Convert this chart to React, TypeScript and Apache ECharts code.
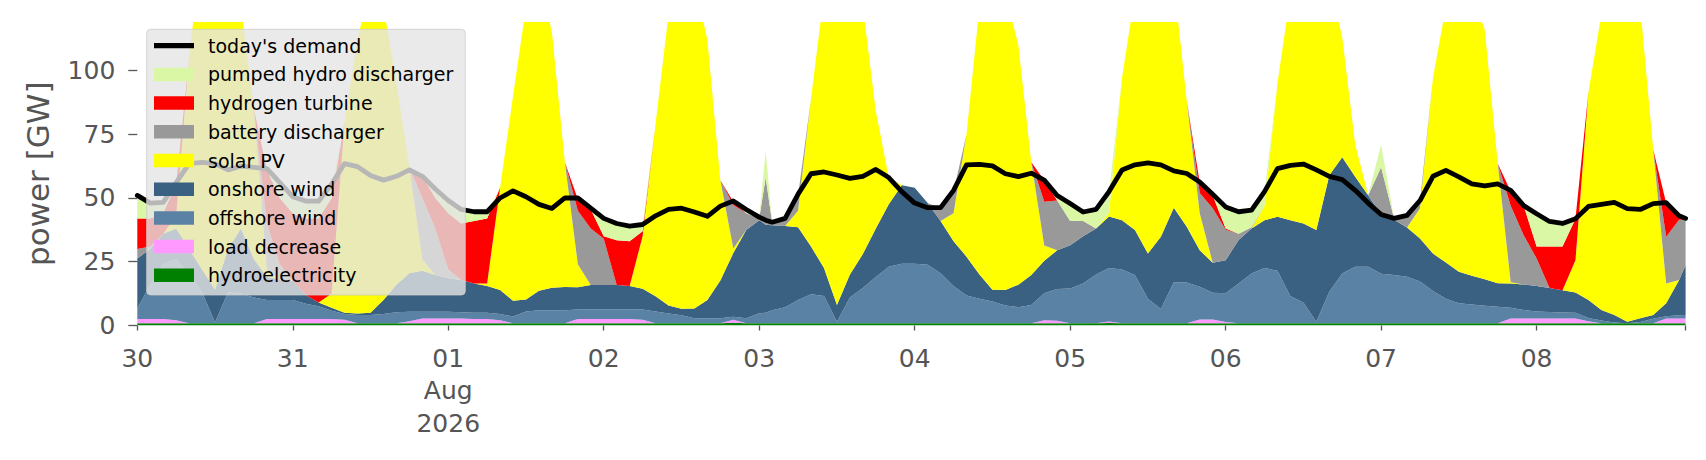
import React, { useEffect, useRef } from "react";
import * as echarts from "echarts";

// hours since 30 Jul 2026 00:00
const hours = [
  0, 2, 4, 6, 8, 10, 12, 14, 16, 18, 20, 22,
  24, 26, 28, 30, 32, 34, 36, 38, 40, 42, 44, 46,
  48, 50, 52, 54, 56, 58, 60, 62, 64, 66, 68, 70,
  72, 74, 76, 78, 80, 82, 84, 86, 88, 90, 92, 94,
  96, 97, 98, 100, 102, 104, 106, 108, 110, 112, 114, 116, 118,
  120, 122, 124, 126, 128, 130, 132, 134, 136, 138, 140, 142,
  144, 146, 148, 150, 152, 154, 156, 158, 160, 162, 164, 166,
  168, 170, 172, 174, 176, 178, 180, 182, 184, 186, 188, 190,
  192, 194, 196, 198, 200, 202, 204, 206, 208, 210, 212, 214,
  216, 218, 220, 222, 224, 226, 228, 230, 232, 234, 236, 238,
  239,
];

const demand = [
  51, 48, 48.3, 56, 63.5, 64, 63.5, 61, 62.5, 62, 61.5, 56,
  50.5, 48.8, 48.8, 55.5, 63.5, 62.3, 58.8, 57, 58.5, 61, 58.5, 53.5,
  49, 45.5, 44.6, 44.6, 50, 52.8, 50.5, 47.5, 45.9, 50, 50, 46,
  42, 40, 39, 39.6, 43, 45.5, 46, 44.5, 42.8, 46.8, 48.8, 45.5,
  42.5, 41.3, 40.5, 42, 51.5, 59.5, 60.2, 59, 57.7, 58.5, 61.2, 58, 52.5,
  48, 46.2, 46.2, 53, 63, 63.2, 62.6, 59.5, 58.4, 59.7, 57, 51,
  47.8, 44.5, 45.5, 52.5, 61, 63, 63.8, 63, 60.6, 59.6, 56.3, 51.5,
  46.5, 44.6, 45.2, 52.5, 61.5, 62.8, 63.3, 61, 58.5, 57.2, 53, 48,
  43.5, 42, 43.2, 49, 58.5, 60.8, 58.3, 55.5, 54.7, 55.5, 53, 47,
  43.8, 40.8, 40, 41.9, 46.7, 47.5, 48.3, 45.8, 45.5, 47.8, 48.2, 43,
  42,
];

const hydroelectricity = [
  0.9, 0.9, 0.9, 0.9, 0.9, 0.9, 0.9, 0.9, 0.9, 0.9, 0.9, 0.9,
  0.9, 0.9, 0.9, 0.9, 0.9, 0.9, 0.9, 0.9, 0.9, 0.9, 0.9, 0.9,
  0.9, 0.9, 0.9, 0.9, 0.9, 0.9, 0.9, 0.9, 0.9, 0.9, 0.9, 0.9,
  0.9, 0.9, 0.9, 0.9, 0.9, 0.9, 0.9, 0.9, 0.9, 0.9, 1.1, 0.9,
  0.9, 0.9, 0.9, 0.9, 0.9, 0.9, 0.9, 0.9, 0.9, 0.9, 0.9, 0.9, 0.9,
  0.9, 0.9, 0.9, 0.9, 0.9, 0.9, 0.9, 0.9, 0.9, 0.9, 0.9, 0.9,
  0.9, 0.9, 0.9, 1.0, 0.9, 0.9, 0.9, 0.9, 0.9, 0.9, 0.9, 0.9,
  0.9, 0.9, 0.9, 0.9, 0.9, 0.9, 0.9, 0.9, 0.9, 0.9, 0.9, 0.9,
  0.9, 0.9, 0.9, 0.9, 0.9, 0.9, 0.9, 0.9, 0.9, 0.9, 0.9, 0.9,
  0.9, 0.9, 0.9, 0.9, 0.9, 0.9, 0.9, 0.9, 0.9, 0.9, 0.9, 0.9,
  0.9,
];

const loadDecrease = [
  1.6, 1.6, 1.6, 1.2, 0, 0, 0, 0, 0, 0, 1.6, 1.6,
  1.6, 1.6, 1.6, 1.6, 1.4, 0, 0, 0, 0, 0.8, 1.8, 1.8,
  1.8, 1.8, 1.6, 1.6, 1.2, 0, 0, 0, 0, 0, 1.6, 1.6,
  1.6, 1.6, 1.6, 1.4, 0, 0, 0, 0, 0, 0, 1.2, 0,
  0, 0, 0, 0, 0, 0, 0, 0, 0, 0, 0, 0, 0,
  0, 0, 0, 0, 0, 0, 0, 0, 0, 0, 1.2, 1.0,
  0, 0, 0, 0.6, 0, 0, 0, 0, 0, 0, 1.5, 1.5,
  0.5, 0, 0, 0, 0, 0, 0, 0, 0, 0, 0, 0,
  0, 0, 0, 0, 0, 0, 0, 0, 0, 0, 1.8, 1.8,
  1.8, 1.8, 1.8, 1.8, 0.8, 0, 0, 0, 0, 0, 1.8, 1.8,
  1.8,
];

const offshoreWind = [
  4.2, 13.5, 21.5, 23.9, 19.1, 12.1, 0.3, 12.1, 11.6, 10.1, 7.5, 7.5,
  7.5, 6, 5, 3.3, 2.2, 3.2, 3.2, 3.6, 4.3, 3.7, 2.7, 2.7,
  2.7, 2.5, 2.5, 2.5, 2.4, 2.6, 4.6, 5.1, 5.1, 5.1, 3.8, 3.8,
  3.8, 3.8, 3.8, 4, 4.6, 3.8, 3.1, 1.9, 1.9, 1.9, 1.1, 1.9,
  3.9, 4.1, 5.1, 6.3, 9.1, 11.4, 10.7, 0.6, 10.1, 13.8, 18.1, 22.1, 23.3,
  23.3, 22.9, 19.6, 14.6, 10.9, 9.6, 8.5, 6.9, 6.3, 7.1, 10.5, 12.4,
  13.6, 15.6, 19.1, 20.9, 21.1, 18.9, 9.6, 5.6, 16.1, 16, 12.8, 10.4,
  11.2, 15.6, 19.5, 21.6, 20.6, 10.6, 8.1, 0.6, 12.3, 19.5, 22.1, 22.1,
  19.4, 18.9, 18.2, 16.4, 12.6, 9.6, 7.8, 7.3, 6.8, 6.5, 4.3, 3.4,
  2.8, 2.6, 2.4, 2.3, 1.2, 1.1, 0.3, 0, 0.5, 1.7, 0.9, 1.3,
  1.4,
];

const onshoreWind = [
  19.6, 14, 12, 12, 10, 9, 12.8, 17, 25.5, 15, 9, 8,
  7.5, 3.5, 1.5, 1.2, 0.5, 0.6, 0.9, 5.5, 10.8, 15.1, 16.1, 14.4,
  13.1, 12.6, 11.5, 10.5, 9.4, 6.2, 4.7, 7.6, 8.8, 9.1, 8.7, 9.6,
  9.6, 9.6, 9.2, 8.1, 6, 3.1, 2.6, 3.9, 7.2, 14.8, 25, 34.6,
  36.5, 34.5, 33.3, 31.8, 28.5, 18.7, 10.9, 6.5, 9, 13.3, 19, 24.5, 30.8,
  29.8, 24.2, 20.5, 17.5, 15.2, 9.5, 4.6, 6.1, 8.8, 11.8, 12.8, 15.2,
  17, 18.5, 18, 20.2, 19.3, 17.6, 17.7, 28.3, 29.2, 21.8, 14.3, 11.8,
  13, 17, 17.6, 18.8, 21.1, 29.8, 31, 35.9, 45.7, 45.6, 35.3, 28.1,
  23, 21.7, 19.3, 16.8, 14.7, 14.2, 12.4, 11.3, 10.4, 9.2, 9.5, 10,
  10, 9.4, 8.7, 7.9, 7.1, 4.1, 2.9, 0.6, 1.4, 1.5, 5.1, 13.8,
  19.6,
];

const solarPV = [
  0, 0, 0, 5, 75, 128, 151, 125, 87, 59, 3, 0,
  0, 0, 0, 5.5, 75, 107.3, 130, 115, 79, 41.5, 4.5, 0,
  0, 0, 0, 1, 40.1, 80.3, 114.8, 124.4, 100.2, 48.9, 9, 0,
  0, 0, 0, 20.6, 67.5, 114.2, 133.4, 128.3, 102, 39.4, 1.8, 0,
  0, 0, 0, 0, 6.5, 58, 107.5, 137, 125, 97, 46, 10.5, 0,
  0, 0, 0, 11, 48, 105, 126, 116.1, 94, 44.2, 6, 0,
  0, 0, 0, 1.4, 55.7, 92.6, 121.8, 110.2, 88.8, 49.3, 14.5, 0,
  0, 0, 0, 5.7, 52.4, 88.7, 110, 112.6, 76.1, 47, 12.7, 0,
  0, 0, 0, 11.9, 68.8, 100.3, 118.9, 110.5, 97.9, 46.9, 0.5, 0,
  0, 0, 0, 12.7, 81.5, 115.9, 135.9, 143.5, 122.2, 64.9, 7.8, 0,
  0,
];

const batteryDischarger = [
  3.7, 1, 0, 0, 0, 0, 0, 0, 0, 0, 18, 6,
  0, 0, 0, 0, 0, 0, 0, 0, 0, 0, 24, 18.2,
  3.5, 0, 0, 0, 0, 0, 0, 0, 0, 0, 21, 22.1,
  18.1, 0, 0, 0, 0, 0, 0, 0, 0, 0, 17, 6.6,
  0.7, 18.5, 0.9, 2.5, 6, 0, 0, 0, 0, 0, 0, 0, 0,
  0, 0, 5, 8.5, 0, 0, 0, 0, 0, 0, 17.1, 19.5,
  9.5, 6, 0, 0, 0, 0, 0, 0, 0, 0, 8, 21.4,
  11.9, 2.5, 0.5, 0, 0, 0, 0, 0, 0, 0, 0, 0,
  18.7, 0.5, 4.6, 2.5, 0, 0, 0, 0, 0, 0, 30, 19.3,
  10.8, 0, 0, 0, 0, 0, 0, 0, 0, 0, 18.3, 23.7,
  17.8,
];

const hydrogenTurbine = [
  12, 11, 8, 12.5, 0, 0, 0, 0, 0, 0, 21, 26,
  26.5, 30, 33, 37.5, 0, 0, 0, 0, 0, 0, 8.5, 12,
  22, 22.2, 24.5, 25.5, 0, 0, 0, 0, 0, 0, 4.5, 7.5,
  1, 17.5, 17.5, 2, 0, 0, 0, 0, 0, 0, 1.3, 0,
  0, 0, 0, 0, 0, 0, 0, 0, 0, 0, 0, 0, 0,
  0, 0, 0, 0, 0, 0, 0, 0, 0, 0, 8.5, 0,
  0, 0, 0, 0, 0, 0, 0, 0, 0, 0, 4, 5,
  0.5, 0, 0, 0, 0, 0, 0, 0, 0, 0, 0, 0,
  0, 0, 0, 0, 0, 0, 0, 0, 0, 0, 5.5, 11.6,
  4.7, 16.3, 17.2, 16.3, 0, 0, 0, 0, 0, 0, 13.2, 1.5,
  0,
];

const pumpedHydroDischarger = [
  8, 5.5, 3.8, 0, 0, 0, 0, 0, 0, 0, 0, 5.5,
  6, 6.3, 6.3, 4.5, 0, 0, 0, 0, 0, 0, 0, 3,
  4.5, 5, 3.2, 2.2, 0, 0, 0, 0, 0, 0, 0, 0,
  6.5, 6.3, 5.6, 2.2, 0, 0, 0, 0, 0, 0, 0, 1,
  0.2, 10.5, 0.3, 0.5, 0, 0, 0, 0, 0, 0, 0, 0, 0,
  0, 0, 0, 0, 0, 0, 0, 0, 0, 0, 0, 1.5,
  6.5, 3.2, 7.2, 8, 0, 0, 0, 0, 0, 0, 0, 0,
  8.2, 8.3, 6.5, 5, 0, 0, 0, 0, 0, 0, 0, 0,
  9, 0, 0, 0, 0, 0, 0, 0, 0, 0, 0, 0,
  12.5, 9.4, 8.8, 0, 0, 0, 0, 0, 0, 0, 0, 0,
  0.5,
];

const dayTicks = [0, 24, 48, 72, 96, 120, 144, 168, 192, 216];
const dayLabels = ["30", "31", "01\nAug\n2026", "02", "03", "04", "05", "06", "07", "08"];
const xEndTick = 239;
const yTicks = [0, 25, 50, 75, 100];

const START = Date.UTC(2026, 6, 30, 0, 0, 0);
const HOUR_MS = 3600 * 1000;

const FONT = "'DejaVu Sans', 'Liberation Sans', sans-serif";
const TICK_COLOR = "#555555";

const stackDefs = [
  { name: "hydroelectricity", data: hydroelectricity, color: "#008000" },
  { name: "load decrease", data: loadDecrease, color: "#ff99ff" },
  { name: "offshore wind", data: offshoreWind, color: "#5a82a4" },
  { name: "onshore wind", data: onshoreWind, color: "#3b6182" },
  { name: "solar PV", data: solarPV, color: "#ffff00" },
  { name: "battery discharger", data: batteryDischarger, color: "#999999" },
  { name: "hydrogen turbine", data: hydrogenTurbine, color: "#ff0000" },
  { name: "pumped hydro discharger", data: pumpedHydroDischarger, color: "#daf7a6" },
];

export default function App() {
  const ref = useRef<HTMLDivElement>(null);

  useEffect(() => {
    if (!ref.current) return;
    const chart = echarts.init(ref.current, null, { renderer: "svg" });

    const toTime = (h: number) => START + h * HOUR_MS;

    const series: any[] = stackDefs.map((d) => ({
      name: d.name,
      type: "line",
      stack: "supply",
      xAxisIndex: 0,
      data: hours.map((h, i) => [toTime(h), d.data[i]]),
      symbol: "none",
      showSymbol: false,
      lineStyle: { width: 0, color: d.color },
      itemStyle: { color: d.color },
      areaStyle: { color: d.color, opacity: 1 },
      emphasis: { disabled: true },
      z: 2,
    }));

    series.push({
      name: "today's demand",
      type: "line",
      xAxisIndex: 0,
      data: hours.map((h, i) => [toTime(h), demand[i]]),
      symbol: "none",
      showSymbol: false,
      lineStyle: { width: 4.8, color: "#000000", join: "round", cap: "round" },
      itemStyle: { color: "#000000" },
      emphasis: { disabled: true },
      z: 3,
    });

    const legendData = [
      { name: "today's demand", icon: "path://M0 0H45V6H0Z", itemStyle: { color: "#000000" } },
      ...stackDefs
        .slice()
        .reverse()
        .map((d) => ({ name: d.name, icon: "rect", itemStyle: { color: d.color } })),
    ];

    chart.setOption({
      animation: false,
      backgroundColor: "#ffffff",
      grid: {
        left: 137.3,
        right: 20.4,
        top: 22,
        bottom: 134.5,
        containLabel: false,
        outerBoundsMode: "none",
      },
      legend: {
        orient: "vertical",
        left: 146.7,
        top: 29.3,
        padding: [5.9, 12, 9.2, 7.3],
        itemWidth: 40,
        itemHeight: 13.5,
        itemGap: 7.7,
        selectedMode: false,
        backgroundColor: "rgba(229,229,229,0.8)",
        borderColor: "rgba(204,204,204,0.8)",
        borderWidth: 1,
        borderRadius: 4,
        textStyle: {
          fontFamily: FONT,
          fontSize: 19,
          color: "#000000",
          lineHeight: 21,
          padding: [0, 0, 0, 9],
        },
        data: legendData,
      },
      xAxis: [
        {
          type: "time",
          min: toTime(0),
          max: toTime(xEndTick),
          show: false,
          position: "bottom",
        },
        {
          type: "value",
          min: 0,
          max: xEndTick,
          interval: 24,
          position: "bottom",
          axisLine: { show: false },
          splitLine: { show: false },
          axisTick: {
            show: true,
            length: 5,
            lineStyle: { color: TICK_COLOR, width: 1.3 },
            customValues: [...dayTicks, xEndTick],
          },
          axisLabel: {
            customValues: dayTicks,
            formatter: (v: number) => {
              const idx = dayTicks.indexOf(v);
              return idx >= 0 ? dayLabels[idx] : "";
            },
            fontFamily: FONT,
            fontSize: 25,
            color: TICK_COLOR,
            lineHeight: 32.5,
            margin: 16.5,
            showMinLabel: true,
            showMaxLabel: true,
          },
        },
      ],
      yAxis: {
        type: "value",
        min: 0,
        max: 119,
        interval: 25,
        name: "power [GW]",
        nameLocation: "middle",
        nameGap: 84,
        nameTextStyle: { fontFamily: FONT, fontSize: 31, color: TICK_COLOR },
        axisLine: { show: false },
        splitLine: { show: false },
        axisTick: {
          show: true,
          length: 9,
          lineStyle: { color: TICK_COLOR, width: 1.3 },
          customValues: yTicks,
        },
        axisLabel: {
          customValues: yTicks,
          formatter: (v: number) => (yTicks.indexOf(v) >= 0 ? String(v) : ""),
          fontFamily: FONT,
          fontSize: 25,
          color: TICK_COLOR,
          margin: 22,
        },
      },
      series,
    });

    return () => {
      chart.dispose();
    };
  }, []);

  return (
    <div
      ref={ref}
      style={{ position: "fixed", left: 0, top: 0, width: 1706, height: 460, background: "#ffffff" }}
    />
  );
}
